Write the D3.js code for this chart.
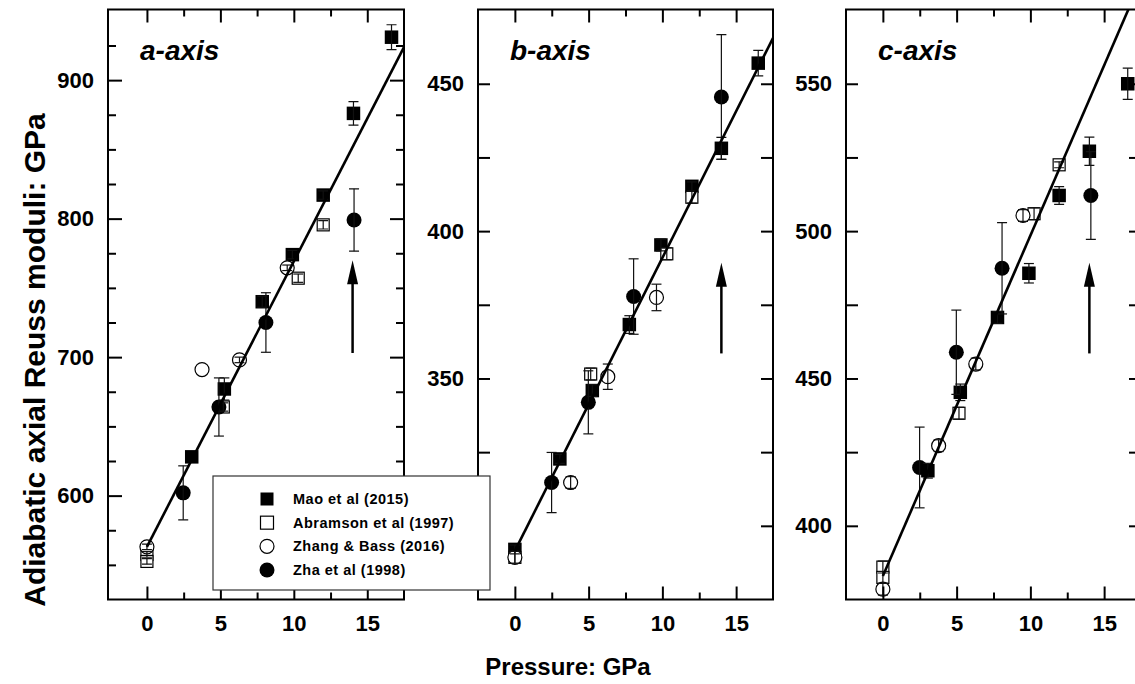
<!DOCTYPE html>
<html><head><meta charset="utf-8">
<script src="https://cdn.jsdelivr.net/npm/d3@7"></script>
<style>
body{margin:0;background:#fff}
svg{display:block}
text{font-family:"Liberation Sans",Arial,sans-serif;font-weight:bold;fill:#000}
</style>
</head><body>
<svg id="chart" width="1135" height="684"></svg>
<script>
// ---------------- DATA ----------------
const seriesNames = ["Mao et al (2015)", "Abramson et al (1997)", "Zhang & Bass (2016)", "Zha et al (1998)"];
const panelLabels = ["a-axis", "b-axis", "c-axis"];
const xTickValues = [0, 5, 10, 15];
const xMinorValues = [2.5, 7.5, 12.5];
const yLabelsA = [600, 700, 800, 900];
const yLabelsB = [350, 400, 450];
const yLabelsC = [400, 450, 500, 550];

// a-axis (pressure GPa, modulus GPa, error GPa)
const maoP_A = [3.05, 5.27, 7.85, 9.9, 12.0, 14.06, 16.65];
const maoK_A = [628, 677, 740, 774, 817, 876, 931];
const maoE_A = [0, 8, 4, 3, 3, 8.5, 9];
const abrP_A = [0, 0, 5.2, 10.3, 12.0];
const abrK_A = [557.5, 552.5, 664, 757, 795.5];
const abrE_A = [2, 2, 3, 3, 3];
const zhangP_A = [0, 3.75, 6.3, 9.55];
const zhangK_A = [563, 691, 698, 764.5];
const zhangE_A = [2, 0, 2, 2];
const zhaP_A = [2.47, 4.9, 8.1, 14.1];
const zhaK_A = [602, 664, 725, 799];
const zhaE_A = [19.5, 21, 21.5, 22.5];

// b-axis
const maoP_B = [0, 3.05, 5.25, 7.76, 9.9, 12.0, 14.0, 16.5];
const maoK_B = [292, 322.7, 345.9, 368.3, 395.3, 415.2, 428.1, 457];
const maoE_B = [1.5, 1.5, 2, 3, 2, 1.5, 3.7, 4.3];
const abrP_B = [0, 5.14, 10.3, 12.0];
const abrK_B = [289.3, 351.5, 392.3, 411.5];
const abrE_B = [2, 2, 2, 2];
const zhangP_B = [0, 3.78, 6.3, 9.6];
const zhangK_B = [289.3, 314.7, 350.6, 377.5];
const zhangE_B = [2, 2, 4.3, 4.5];
const zhaP_B = [2.49, 4.98, 8.05, 14.0];
const zhaK_B = [314.7, 341.9, 377.8, 445.5];
const zhaE_B = [10.2, 10.7, 12.8, 21.2];

// c-axis
const maoP_C = [3.05, 5.25, 7.77, 9.9, 11.95, 14.0, 16.6];
const maoK_C = [418.7, 445.3, 470.7, 485.7, 512.1, 527.1, 550];
const maoE_C = [2.5, 2.8, 2, 3.3, 3, 4.8, 5.3];
const abrP_C = [0, 0, 5.16, 10.25, 11.95];
const abrK_C = [386, 382.5, 438.2, 505.9, 522.5];
const abrE_C = [2, 2, 2, 2, 1];
const zhangP_C = [0, 3.78, 6.3, 9.5];
const zhangK_C = [378.5, 427.2, 454.9, 505.3];
const zhangE_C = [2, 2, 2, 2];
const zhaP_C = [2.49, 4.98, 8.08, 14.1];
const zhaK_C = [419.8, 458.9, 487.4, 512.1];
const zhaE_C = [13.7, 14.3, 15.5, 14.9];

// linear fits (endpoints)
const fitP = [0, 17.5];
const fitK_A = [563, 923.8];
const fitK_B = [291.5, 465.5];
const fitK_C = [383, 585.1];

// arrows at 14 GPa (base, tip)
const arrowP = 14;
const arrowK_A = [703, 770];
const arrowK_B = [358.5, 389.3];
const arrowK_C = [458.5, 489.3];

// ---------------- LAYOUT ----------------
const svg = d3.select("#chart");
const TOP = 9.5, BOTTOM = 599.5;
const FONT = '"Liberation Sans", Arial, sans-serif';

function pts(P, K, E) { return P.map((p, i) => ({p, k: K[i], e: E[i]})); }

const panels = [
  {label: panelLabels[0], x0: 108, x1: 404, xDom: [-2.65, 17.5], yDom: [525, 951],
   yLabels: yLabelsA, yStep: 25, majorLen: 14, minorLen: 8, majorEvery: 100,
   mao: pts(maoP_A, maoK_A, maoE_A), abr: pts(abrP_A, abrK_A, abrE_A),
   zhang: pts(zhangP_A, zhangK_A, zhangE_A), zha: pts(zhaP_A, zhaK_A, zhaE_A),
   fit: fitK_A, arrow: arrowK_A},
  {label: panelLabels[1], x0: 478, x1: 773, xDom: [-2.5, 17.5], yDom: [275, 475.2],
   yLabels: yLabelsB, yStep: 25, majorLen: 12, minorLen: 12, majorEvery: 50,
   mao: pts(maoP_B, maoK_B, maoE_B), abr: pts(abrP_B, abrK_B, abrE_B),
   zhang: pts(zhangP_B, zhangK_B, zhangE_B), zha: pts(zhaP_B, zhaK_B, zhaE_B),
   fit: fitK_B, arrow: arrowK_B},
  {label: panelLabels[2], x0: 846, x1: 1141, xDom: [-2.5, 17.5], yDom: [375, 575.2],
   yLabels: yLabelsC, yStep: 25, majorLen: 12, minorLen: 12, majorEvery: 50,
   mao: pts(maoP_C, maoK_C, maoE_C), abr: pts(abrP_C, abrK_C, abrE_C),
   zhang: pts(zhangP_C, zhangK_C, zhangE_C), zha: pts(zhaP_C, zhaK_C, zhaE_C),
   fit: fitK_C, arrow: arrowK_C}
];

const defs = svg.append("defs");

panels.forEach((pn, idx) => {
  const x = d3.scaleLinear().domain(pn.xDom).range([pn.x0, pn.x1]);
  const y = d3.scaleLinear().domain(pn.yDom).range([BOTTOM, TOP]);
  const g = svg.append("g");

  defs.append("clipPath").attr("id", "clip" + idx)
    .append("rect").attr("x", pn.x0).attr("y", TOP).attr("width", pn.x1 - pn.x0).attr("height", BOTTOM - TOP);

  g.append("rect").attr("x", pn.x0).attr("y", TOP).attr("width", pn.x1 - pn.x0).attr("height", BOTTOM - TOP)
    .attr("fill", "#fff");

  const plot = g.append("g").attr("clip-path", `url(#clip${idx})`);

  // markers
  const sqF = 13.5, sqO = 12, rF = 7.5, rO = 7;
  plot.selectAll(".mao").data(pn.mao).join("rect")
    .attr("x", d => x(d.p) - sqF / 2).attr("y", d => y(d.k) - sqF / 2)
    .attr("width", sqF).attr("height", sqF).attr("fill", "#000");
  plot.selectAll(".abr").data(pn.abr).join("rect")
    .attr("x", d => x(d.p) - sqO / 2).attr("y", d => y(d.k) - sqO / 2)
    .attr("width", sqO).attr("height", sqO).attr("fill", "#fff").attr("stroke", "#000").attr("stroke-width", 1.2);
  plot.selectAll(".zhang").data(pn.zhang).join("circle")
    .attr("cx", d => x(d.p)).attr("cy", d => y(d.k)).attr("r", rO)
    .attr("fill", "#fff").attr("stroke", "#000").attr("stroke-width", 1.2);
  plot.selectAll(".zha").data(pn.zha).join("circle")
    .attr("cx", d => x(d.p)).attr("cy", d => y(d.k)).attr("r", rF).attr("fill", "#000");

  // error bars
  const all = [].concat(pn.mao, pn.abr, pn.zhang, pn.zha).filter(d => d.e > 0);
  const eb = plot.append("g").attr("stroke", "#111").attr("stroke-width", 1.2).attr("fill", "none");
  all.forEach(d => {
    const cx = x(d.p), yt = y(d.k + d.e), yb = y(d.k - d.e);
    eb.append("line").attr("x1", cx).attr("x2", cx).attr("y1", yt).attr("y2", yb);
    eb.append("line").attr("x1", cx - 5).attr("x2", cx + 5).attr("y1", yt).attr("y2", yt);
    eb.append("line").attr("x1", cx - 5).attr("x2", cx + 5).attr("y1", yb).attr("y2", yb);
  });

  // fit line
  const fitData = fitP.map((p, i) => [p, pn.fit[i]]);
  plot.append("path").datum(fitData)
    .attr("d", d3.line().x(d => x(d[0])).y(d => y(d[1])))
    .attr("stroke", "#000").attr("stroke-width", 2.6).attr("fill", "none");

  // arrow
  const ax = x(arrowP), tipY = y(pn.arrow[1]), baseY = y(pn.arrow[0]);
  plot.append("line").attr("x1", ax).attr("x2", ax).attr("y1", baseY).attr("y2", tipY + 20)
    .attr("stroke", "#000").attr("stroke-width", 2.5);
  plot.append("path")
    .attr("d", `M${ax},${tipY} L${ax - 5.5},${tipY + 24} L${ax + 5.5},${tipY + 24} Z`)
    .attr("fill", "#000");

  // axes
  const yAll = d3.range(Math.ceil(pn.yDom[0] / pn.yStep) * pn.yStep, pn.yDom[1], pn.yStep)
    .filter(v => v > pn.yDom[0] + 1 && v < pn.yDom[1] - 1);
  const yMajor = yAll.filter(v => v % pn.majorEvery === 0);
  const yMinor = yAll.filter(v => v % pn.majorEvery !== 0);

  function styleAxis(sel) {
    sel.select(".domain").remove();
    sel.selectAll(".tick line").attr("stroke", "#000").attr("stroke-width", 2);
    sel.attr("font-family", FONT).attr("font-size", 22).attr("font-weight", "bold");
    sel.selectAll("text").attr("fill", "#000");
  }

  g.append("g").attr("transform", `translate(${pn.x0},0)`)
    .call(d3.axisLeft(y).tickValues(pn.yLabels).tickSize(-pn.majorLen).tickPadding(14).tickFormat(d3.format("d")))
    .call(styleAxis);
  g.append("g").attr("transform", `translate(${pn.x0},0)`)
    .call(d3.axisLeft(y).tickValues(yMajor.filter(v => !pn.yLabels.includes(v))).tickSize(-pn.majorLen).tickFormat(""))
    .call(styleAxis);
  g.append("g").attr("transform", `translate(${pn.x0},0)`)
    .call(d3.axisLeft(y).tickValues(yMinor).tickSize(-pn.minorLen).tickFormat(""))
    .call(styleAxis);
  g.append("g").attr("transform", `translate(${pn.x1},0)`)
    .call(d3.axisRight(y).tickValues(yMajor).tickSize(-pn.majorLen).tickFormat(""))
    .call(styleAxis);
  g.append("g").attr("transform", `translate(${pn.x1},0)`)
    .call(d3.axisRight(y).tickValues(yMinor).tickSize(-pn.minorLen).tickFormat(""))
    .call(styleAxis);

  g.append("g").attr("transform", `translate(0,${BOTTOM})`)
    .call(d3.axisBottom(x).tickValues(xTickValues).tickSize(-13).tickPadding(16).tickFormat(d3.format("d")))
    .call(styleAxis);
  g.append("g").attr("transform", `translate(0,${BOTTOM})`)
    .call(d3.axisBottom(x).tickValues(xMinorValues).tickSize(-7).tickFormat(""))
    .call(styleAxis);
  g.append("g").attr("transform", `translate(0,${TOP})`)
    .call(d3.axisTop(x).tickValues(xTickValues).tickSize(-13).tickFormat(""))
    .call(styleAxis);
  g.append("g").attr("transform", `translate(0,${TOP})`)
    .call(d3.axisTop(x).tickValues(xMinorValues).tickSize(-7).tickFormat(""))
    .call(styleAxis);

  // frame
  g.append("rect").attr("x", pn.x0).attr("y", TOP).attr("width", pn.x1 - pn.x0).attr("height", BOTTOM - TOP)
    .attr("fill", "none").attr("stroke", "#000").attr("stroke-width", 2);

  // panel label
  g.append("text").attr("x", pn.x0 + 32).attr("y", 60)
    .attr("font-size", 28).attr("font-style", "italic").text(pn.label);
});

// axis titles
svg.append("text").attr("x", 568).attr("y", 675).attr("text-anchor", "middle")
  .attr("font-size", 24).text("Pressure: GPa");
svg.append("text").attr("transform", "translate(45,360) rotate(-90)").attr("text-anchor", "middle")
  .attr("font-size", 30).text("Adiabatic axial Reuss moduli: GPa");

// legend
const lg = svg.append("g");
lg.append("rect").attr("x", 213).attr("y", 476).attr("width", 277).attr("height", 114)
  .attr("fill", "#fff").attr("stroke", "#333").attr("stroke-width", 1.2);
const rowY = d3.scalePoint().domain(seriesNames).range([499, 570]);
const symX = 267;
seriesNames.forEach((name, i) => {
  const yy = rowY(name);
  if (i === 0) lg.append("rect").attr("x", symX - 6.5).attr("y", yy - 6.5).attr("width", 13).attr("height", 13).attr("fill", "#000");
  if (i === 1) lg.append("rect").attr("x", symX - 6.5).attr("y", yy - 6.5).attr("width", 13).attr("height", 13).attr("fill", "#fff").attr("stroke", "#000").attr("stroke-width", 1.2);
  if (i === 2) lg.append("circle").attr("cx", symX).attr("cy", yy).attr("r", 7).attr("fill", "#fff").attr("stroke", "#000").attr("stroke-width", 1.2);
  if (i === 3) lg.append("circle").attr("cx", symX).attr("cy", yy).attr("r", 7.5).attr("fill", "#000");
  lg.append("text").attr("x", 293).attr("y", yy + 5).attr("font-size", 14.5)
    .attr("letter-spacing", 0.5).text(name);
});
</script>
</body></html>
